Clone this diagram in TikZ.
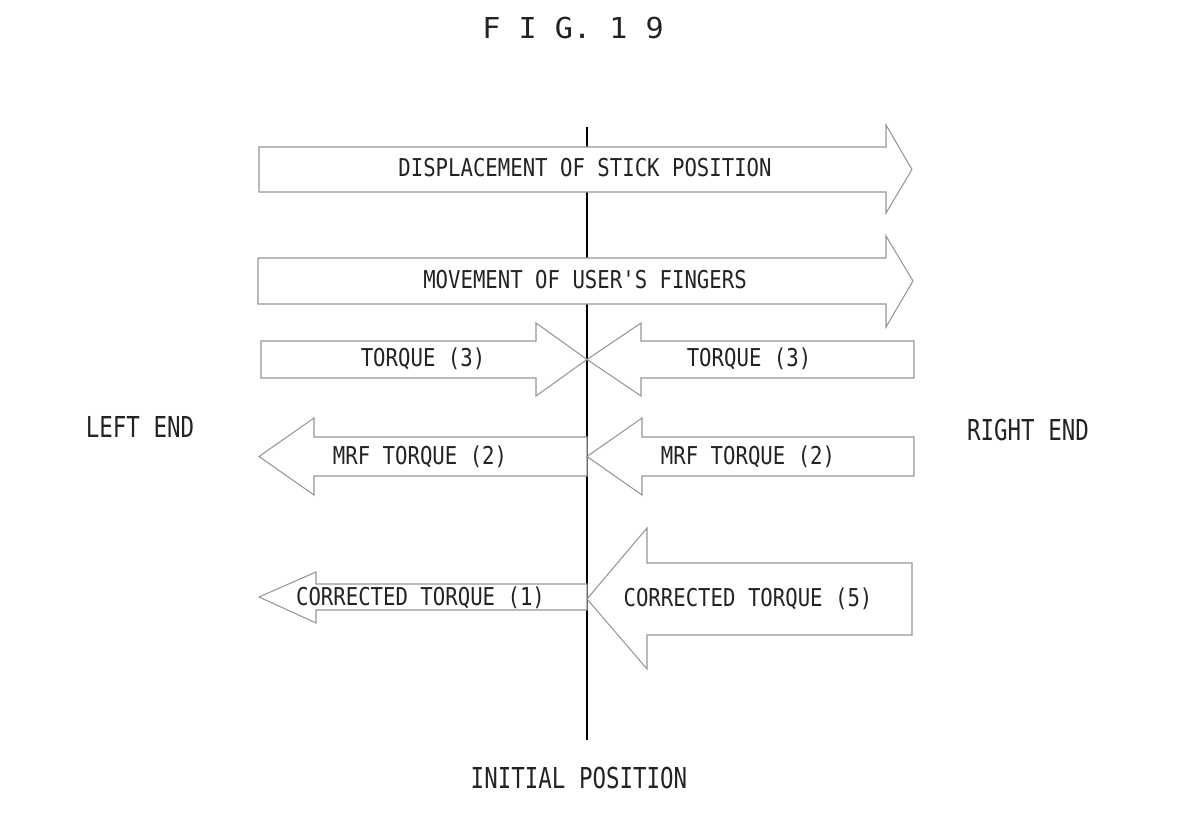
\documentclass[tikz,border=0pt]{standalone}
\usepackage{fontspec}
\usepackage{tikz}
\usetikzlibrary{positioning}
\newfontfamily\figfont{DejaVu Sans Mono}
\definecolor{figgray}{RGB}{150,150,150}
\definecolor{figink}{RGB}{35,35,35}

\begin{document}
\begin{tikzpicture}[x=2cm,y=2cm,
  band/.style={draw=figgray,fill=white,line width=0.6pt,line join=miter},
  lbl/.style={font=\figfont\fontsize{14}{17}\selectfont,text=figink,xscale=0.84,inner sep=0pt,anchor=base},
  side/.style={font=\figfont\fontsize{16.4}{19}\selectfont,text=figink,xscale=0.78,inner sep=0pt,anchor=base}]
  \useasboundingbox (0,0) rectangle (12,8.16);
  % initial position line first, the wide arrows cover it
  \coordinate (top) at (5.87,6.89);
  \coordinate (bot) at (5.87,0.76);
  \draw[black,line width=1.3pt] (top) -- (bot);
  % arrows to the right: stick and fingers
  \draw[band] (2.59,6.24) -- (8.86,6.24) -- (8.86,6.03) -- (9.12,6.465) -- (8.86,6.91) -- (8.86,6.69) -- (2.59,6.69) -- cycle;
  \draw[band] (2.58,5.12) -- (8.86,5.12) -- (8.86,4.89) -- (9.13,5.35) -- (8.86,5.80) -- (8.86,5.58) -- (2.58,5.58) -- cycle;
  % torque (3), both meeting at the line
  \draw[band] (2.61,4.38) -- (5.36,4.38) -- (5.36,4.20) -- (5.87,4.565) -- (5.36,4.93) -- (5.36,4.75) -- (2.61,4.75) -- cycle;
  \draw[band] (9.14,4.38) -- (6.41,4.38) -- (6.41,4.20) -- (5.87,4.565) -- (6.41,4.93) -- (6.41,4.75) -- (9.14,4.75) -- cycle;
  % MRF torque (2)
  \draw[band] (5.87,3.40) -- (3.14,3.40) -- (3.14,3.21) -- (2.59,3.595) -- (3.14,3.98) -- (3.14,3.79) -- (5.87,3.79) -- cycle;
  \draw[band] (9.14,3.40) -- (6.42,3.40) -- (6.42,3.21) -- (5.87,3.595) -- (6.42,3.98) -- (6.42,3.79) -- (9.14,3.79) -- cycle;
  % corrected torque (1) and (5)
  \draw[band] (5.87,2.06) -- (3.16,2.06) -- (3.16,1.93) -- (2.59,2.19) -- (3.16,2.44) -- (3.16,2.32) -- (5.87,2.32) -- cycle;
  \draw[band] (9.12,1.81) -- (6.47,1.81) -- (6.47,1.47) -- (5.87,2.17) -- (6.47,2.88) -- (6.47,2.53) -- (9.12,2.53) -- cycle;
  % labels
  \node[side,xscale=1.34] (fig) at (5.73,7.775) {F I G. 1 9};
  \node[lbl] (disp) at (5.85,6.39) {DISPLACEMENT OF STICK POSITION};
  \node[lbl] (move) at (5.85,5.27) {MOVEMENT OF USER'S FINGERS};
  \node[lbl] (tqL) at (4.23,4.49) {TORQUE (3)};
  \node[lbl] (tqR) at (7.49,4.49) {TORQUE (3)};
  \node[lbl] (mrfL) at (4.20,3.51) {MRF TORQUE (2)};
  \node[lbl] (mrfR) at (7.48,3.51) {MRF TORQUE (2)};
  \node[lbl] (corL) at (4.205,2.10) {CORRECTED TORQUE (1)};
  \node[lbl] (corR) at (7.48,2.09) {CORRECTED TORQUE (5)};
  \node[side] (leftend) at (1.40,3.785) {LEFT END};
  \node[side] (rightend) at (10.28,3.755) {RIGHT END};
  \node[side] (initpos) at (5.79,0.275) {INITIAL POSITION};
\end{tikzpicture}
\end{document}
